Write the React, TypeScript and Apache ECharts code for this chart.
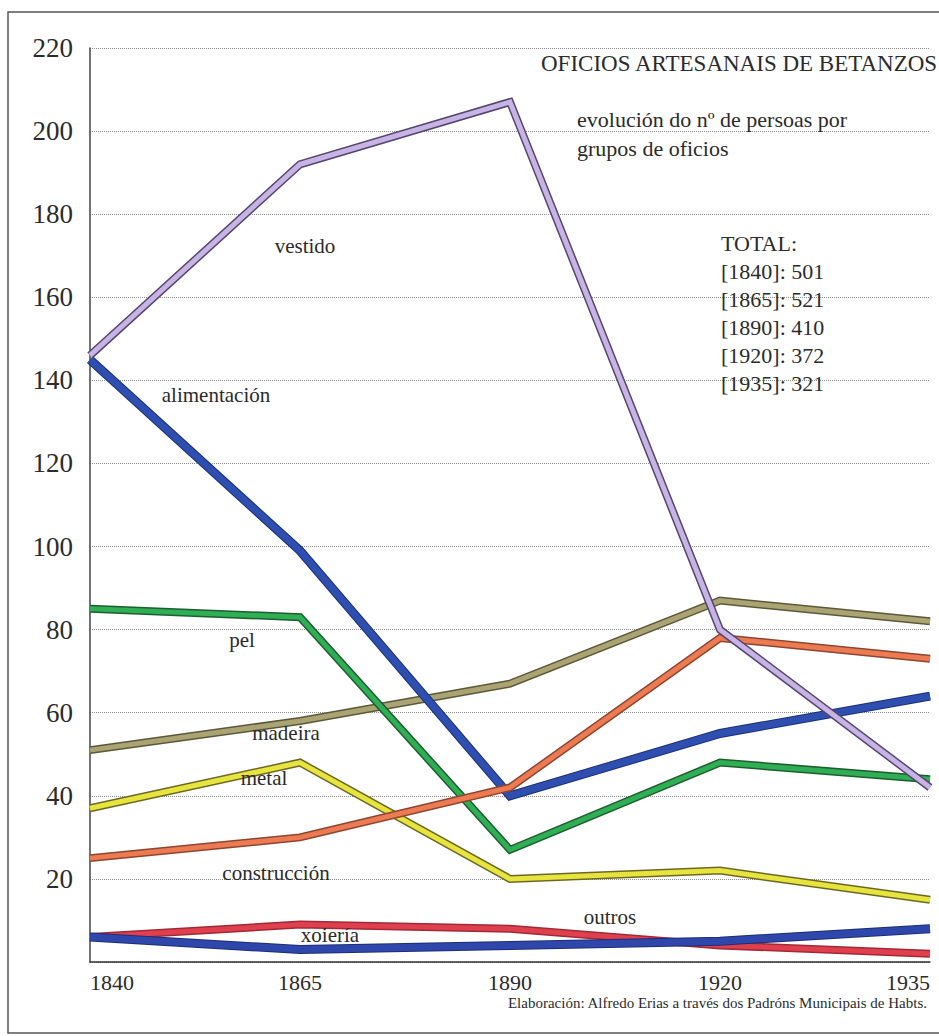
import React, { useEffect, useRef } from "react";
import * as echarts from "echarts";

const categories = ["1840", "1865", "1890", "1920", "1935"];

const vestido = [146, 192, 207, 80, 42];
const alimentacion = [145, 99, 40, 55, 64];
const pel = [85, 83, 27, 48, 44];
const madeira = [51, 58, 67, 87, 82];
const metal = [37, 48, 20, 22, 15];
const construccion = [25, 30, 42, 78, 73];
const xoieria = [6, 9, 8, 4, 2];
const outros = [6, 3, 4, 5, 8];

const totals = [501, 521, 410, 372, 321];

const seriesNames = ["xoiería", "outros", "metal", "madeira", "pel", "alimentación", "construcción", "vestido"];
const seriesValues = [xoieria, outros, metal, madeira, pel, alimentacion, construccion, vestido];
const fillColors = ["#e0404e", "#2f47aa", "#e8e43e", "#aaa374", "#2fae55", "#2f4fb0", "#ec7a52", "#c8b4e4"];
const edgeColors = ["#a02a38", "#1d2d78", "#6b6826", "#5c5838", "#1d5e2f", "#1c2f78", "#8e4630", "#54466e"];

const FONT = "'Liberation Serif', 'Times New Roman', serif";
const TXT = "#2b2b2b";

// annotation placements (pixel centers)
const seriesLabelPos: Record<string, [number, number]> = {
  "vestido": [305, 246],
  "alimentación": [216, 395],
  "pel": [242, 640],
  "madeira": [286, 733],
  "metal": [264, 778],
  "construcción": [276, 873],
  "outros": [610, 917],
  "xoiería": [330, 935],
};

export default function App() {
  const ref = useRef<HTMLDivElement>(null);

  useEffect(() => {
    if (!ref.current) return;
    const chart = echarts.init(ref.current, undefined, { renderer: "svg" });

    const series: any[] = [];
    seriesNames.forEach((name, i) => {
      const isBlue = name === "alimentación" || name === "outros";
      series.push({
        name: name + "-edge",
        type: "line",
        data: seriesValues[i],
        symbol: "none",
        silent: true,
        z: 2 + i * 2,
        lineStyle: { color: edgeColors[i], width: isBlue ? 9 : 8, join: "miter", cap: "butt" },
      });
      series.push({
        name,
        type: "line",
        data: seriesValues[i],
        symbol: "none",
        silent: true,
        z: 3 + i * 2,
        lineStyle: { color: fillColors[i], width: isBlue ? 7 : 5, join: "miter", cap: "butt" },
      });
    });

    const graphics: any[] = [
      {
        type: "rect",
        shape: { x: 8, y: 12, width: 960, height: 1021 },
        style: { fill: "none", stroke: "#555", lineWidth: 1.5 },
        z: 0,
        silent: true,
      },
      {
        type: "text",
        x: 541,
        y: 63,
        z: 100,
        style: {
          text: "OFICIOS ARTESANAIS DE BETANZOS",
          font: `23px ${FONT}`,
          fill: TXT,
          verticalAlign: "middle",
        },
      },
      {
        type: "text",
        x: 577,
        y: 119,
        z: 100,
        style: {
          text: "evolución do nº de persoas por",
          font: `22px ${FONT}`,
          fill: TXT,
          verticalAlign: "middle",
        },
      },
      {
        type: "text",
        x: 577,
        y: 148,
        z: 100,
        style: {
          text: "grupos de oficios",
          font: `22px ${FONT}`,
          fill: TXT,
          verticalAlign: "middle",
        },
      },
      {
        type: "text",
        x: 721,
        y: 243,
        z: 100,
        style: { text: "TOTAL:", font: `22px ${FONT}`, fill: TXT, verticalAlign: "middle" },
      },
      ...categories.map((c, i) => ({
        type: "text",
        x: 721,
        y: 271.5 + i * 28,
        z: 100,
        style: { text: `[${c}]: ${totals[i]}`, font: `22px ${FONT}`, fill: TXT, verticalAlign: "middle" },
      })),
      ...seriesNames.map((n) => ({
        type: "text",
        x: seriesLabelPos[n][0],
        y: seriesLabelPos[n][1],
        z: 100,
        style: {
          text: n,
          font: `21px ${FONT}`,
          fill: TXT,
          align: "center",
          verticalAlign: "middle",
        },
      })),
      {
        type: "text",
        x: 927,
        y: 1003,
        z: 100,
        style: {
          text: "Elaboración: Alfredo Erias a través dos Padróns Municipais de Habts.",
          font: `15px ${FONT}`,
          fill: TXT,
          align: "right",
          verticalAlign: "middle",
        },
      },
    ];

    chart.setOption({
      animation: false,
      backgroundColor: "#ffffff",
      grid: { left: 90, right: 9, top: 48, bottom: 74, containLabel: false },
      xAxis: {
        type: "category",
        data: categories,
        boundaryGap: false,
        axisLine: { show: true, lineStyle: { color: "#333", width: 1.5 } },
        axisTick: { show: false },
        splitLine: { show: false },
        axisLabel: {
          fontFamily: FONT,
          fontSize: 22,
          color: TXT,
          margin: 9,
          alignMinLabel: "left",
          alignMaxLabel: "right",
        },
      },
      yAxis: {
        type: "value",
        min: 0,
        max: 220,
        interval: 20,
        axisLine: { show: true, lineStyle: { color: "#444", width: 1.5 } },
        axisTick: { show: false },
        axisLabel: {
          fontFamily: FONT,
          fontSize: 27,
          color: TXT,
          margin: 17,
          showMinLabel: false,
        },
        splitLine: { show: true, lineStyle: { color: "#8c8c8c", type: "dotted", width: 1 } },
      },
      series,
      graphic: graphics,
    });

    return () => chart.dispose();
  }, []);

  return (
    <div
      ref={ref}
      style={{ position: "fixed", left: 0, top: 0, width: 939, height: 1036, background: "#fff" }}
    />
  );
}
